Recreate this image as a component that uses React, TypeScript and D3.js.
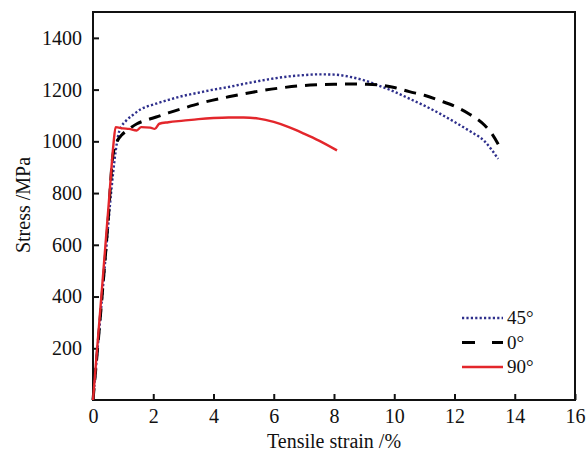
import React from "react";
import * as d3 from "d3";

// strain (%) / stress (MPa)
const strain45 = [0, 0.2, 0.4, 0.6, 0.75, 0.85, 0.95, 1.1, 1.3, 1.6, 2, 2.5, 3, 3.5, 4, 4.5, 5, 5.5, 6, 6.5, 7, 7.5, 8, 8.5, 9, 9.5, 10, 10.5, 11, 11.5, 12, 12.5, 13, 13.45];
const stress45 = [0, 260, 530, 800, 960, 1030, 1058, 1080, 1100, 1125, 1142, 1160, 1176, 1188, 1200, 1210, 1222, 1233, 1243, 1251, 1256, 1259, 1258, 1250, 1236, 1215, 1192, 1165, 1138, 1108, 1075, 1040, 1000, 932];

const strain0 = [0, 0.3, 0.5, 0.66, 0.8, 0.96, 1.2, 1.46, 1.8, 2.1, 2.5, 3, 3.65, 4.5, 5.3, 6.2, 7, 7.5, 8.1, 8.5, 9, 9.5, 10, 10.5, 11, 11.5, 12, 12.5, 13, 13.25, 13.5];
const stress0 = [0, 400, 690, 945, 1000, 1025, 1048, 1068, 1083, 1094, 1110, 1128, 1150, 1172, 1190, 1206, 1216, 1219, 1221, 1222, 1221, 1218, 1208, 1192, 1178, 1158, 1136, 1105, 1062, 1028, 978];

const strain90 = [0, 0.1, 0.25, 0.4, 0.55, 0.68, 0.75, 1.0, 1.2, 1.45, 1.6, 1.9, 2.05, 2.2, 2.5, 3, 3.5, 4, 4.5, 5, 5.5, 6, 6.5, 7, 7.5, 8.1];
const stress90 = [0, 145, 360, 580, 800, 990, 1055, 1050, 1048, 1042, 1055, 1053, 1048, 1068, 1074, 1080, 1086, 1090, 1092, 1092, 1088, 1075, 1055, 1030, 1003, 965];

const xTicks = [0, 2, 4, 6, 8, 10, 12, 14, 16];
const yTicks = [200, 400, 600, 800, 1000, 1200, 1400];

const seriesNames = ["45°", "0°", "90°"];

const FONT = "Liberation Serif, DejaVu Serif, serif";

export default function App() {
  const svgRef = React.useRef<SVGSVGElement>(null);

  React.useEffect(() => {
    const width = 587;
    const height = 452;
    const svg = d3
      .select(svgRef.current)
      .attr("width", width)
      .attr("height", height)
      .attr("font-family", FONT);
    svg.selectAll("*").remove();

    // scales
    const x = d3.scaleLinear().domain([0, 16]).range([93, 575]);
    const y = d3.scaleLinear().domain([0, 1500]).range([400, 12]);

    // axes, ticks pointing inward
    const xAxis = d3.axisBottom(x).tickValues(xTicks).tickSize(-6).tickPadding(9).tickFormat(d3.format("d"));
    const yAxis = d3.axisLeft(y).tickValues(yTicks).tickSize(-6).tickPadding(11).tickFormat(d3.format("d"));

    const gx = svg.append("g").attr("transform", `translate(0,${y(0)})`).call(xAxis);
    const gy = svg.append("g").attr("transform", `translate(${x(0)},0)`).call(yAxis);
    [gx, gy].forEach((g) => {
      g.attr("font-family", FONT).attr("font-size", 20);
      g.select(".domain").remove();
      g.selectAll(".tick line").attr("stroke", "#111").attr("stroke-width", 2);
      g.selectAll(".tick text").attr("fill", "#111");
    });

    // frame
    svg
      .append("rect")
      .attr("x", x(0))
      .attr("y", y(1500))
      .attr("width", x(16) - x(0))
      .attr("height", y(0) - y(1500))
      .attr("fill", "none")
      .attr("stroke", "#111")
      .attr("stroke-width", 2);

    // axis labels
    svg
      .append("text")
      .attr("x", 334)
      .attr("y", 448)
      .attr("text-anchor", "middle")
      .attr("font-size", 20)
      .attr("fill", "#111")
      .text("Tensile strain /%");

    svg
      .append("text")
      .attr("transform", "translate(30,205) rotate(-90)")
      .attr("text-anchor", "middle")
      .attr("font-size", 20)
      .attr("fill", "#111")
      .text("Stress /MPa");

    // curves
    const line = d3
      .line<[number, number]>()
      .x((d) => x(d[0]))
      .y((d) => y(d[1]))
      .curve(d3.curveMonotoneX);

    const styles = [
      { color: "#2e2f8c", width: 2.4, dash: "2.2 2.2", xs: strain45, ys: stress45 },
      { color: "#000", width: 3, dash: "12 8", xs: strain0, ys: stress0 },
      { color: "#e3262b", width: 2.4, dash: null, xs: strain90, ys: stress90 },
    ];

    styles.forEach((s) => {
      const pts = s.xs.map((v, i) => [v, s.ys[i]] as [number, number]);
      svg
        .append("path")
        .datum(pts)
        .attr("d", line)
        .attr("fill", "none")
        .attr("stroke", s.color)
        .attr("stroke-width", s.width)
        .attr("stroke-dasharray", s.dash);
    });

    // legend
    const legendDash = ["2.2 2.2", "13 17", null];
    const leg = svg.append("g");
    seriesNames.forEach((name, i) => {
      const yy = 318 + i * 24.5;
      leg
        .append("line")
        .attr("x1", 462)
        .attr("x2", 503)
        .attr("y1", yy)
        .attr("y2", yy)
        .attr("stroke", styles[i].color)
        .attr("stroke-width", styles[i].width)
        .attr("stroke-dasharray", legendDash[i]);
      leg
        .append("text")
        .attr("x", 507)
        .attr("y", yy + 6)
        .attr("font-size", 19)
        .attr("fill", "#111")
        .text(name);
    });
  }, []);

  return (
    <>
      <svg ref={svgRef} style={{ position: "absolute", left: 0, top: 0, background: "#fff" }} />
    </>
  );
}
